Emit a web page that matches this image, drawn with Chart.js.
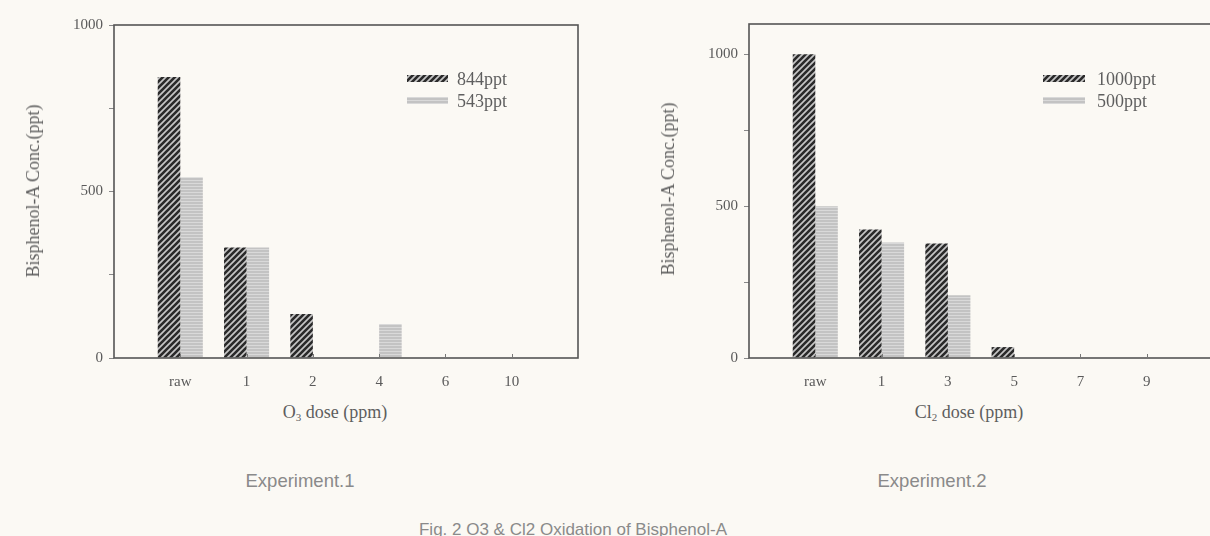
<!DOCTYPE html>
<html>
<head>
<meta charset="utf-8">
<script src="https://cdn.jsdelivr.net/npm/chart.js@4.4.1/dist/chart.umd.min.js"></script>
<style>
  html, body { margin:0; padding:0; }
  body { width:1210px; height:536px; overflow:hidden; position:relative; background:#fbf9f4; }
  canvas.chart { position:absolute; top:0; }
  .t { position:absolute; white-space:nowrap; color:#5e5e5e; font-family:"Liberation Serif","DejaVu Serif",serif; font-size:15px; line-height:1; }
  .ax { font-size:18px; }
  .lg { font-size:18px; }
  .c { transform:translate(-50%,-50%); }
  .rot { transform:translate(-50%,-50%) rotate(-90deg); }
  .sans { font-family:"Liberation Sans",Arial,sans-serif; color:#8a8a8a; font-size:17px; }
  .exp { font-size:18.5px; }
  sub { font-size:11px; vertical-align:-3px; line-height:0; }
  .sw { position:absolute; }
</style>
</head>
<body>
<canvas id="c1" class="chart" width="610" height="400" style="left:0px;width:610px;height:400px"></canvas>
<canvas id="c2" class="chart" width="620" height="400" style="left:620px;width:620px;height:400px"></canvas>

<div class="t ax rot" style="left:33px;top:191px">Bisphenol-A Conc.(ppt)</div>
<div class="t ax rot" style="left:668px;top:189px">Bisphenol-A Conc.(ppt)</div>
<div class="t ax c" style="left:335px;top:412px">O<sub>3</sub> dose (ppm)</div>
<div class="t ax c" style="left:969px;top:412px">Cl<sub>2</sub> dose (ppm)</div>

<canvas id="sw1a" class="sw" width="41" height="7" style="left:407px;top:75px"></canvas>
<canvas id="sw1b" class="sw" width="41" height="7" style="left:407px;top:97px"></canvas>
<div id="lg1a" class="t lg" style="left:457px;top:70px"></div>
<div id="lg1b" class="t lg" style="left:457px;top:92px"></div>
<canvas id="sw2a" class="sw" width="42" height="7" style="left:1043px;top:75px"></canvas>
<canvas id="sw2b" class="sw" width="42" height="7" style="left:1043px;top:97px"></canvas>
<div id="lg2a" class="t lg" style="left:1097px;top:70px"></div>
<div id="lg2b" class="t lg" style="left:1097px;top:92px"></div>

<div class="t c sans exp" style="left:300px;top:481px">Experiment.1</div>
<div class="t c sans exp" style="left:932px;top:481px">Experiment.2</div>
<div class="t c sans" style="left:573px;top:529px">Fig. 2 O3 &amp; Cl2 Oxidation of Bisphenol-A</div>

<script>
// ---- data ----
const o3Doses = ['raw', '1', '2', '4', '6', '10'];
const o3Series844 = [844, 332, 132, 0, 0, 0];
const o3Series543 = [543, 332, 0, 102, 0, 0];
const o3Legend = ['844ppt', '543ppt'];

const cl2Doses = ['raw', '1', '3', '5', '7', '9'];
const cl2Series1000 = [1000, 423, 377, 36, 0, 0];
const cl2Series500 = [500, 380, 207, 0, 0, 0];
const cl2Legend = ['1000ppt', '500ppt'];

const yLabelTicks = [0, 500, 1000];
const yMax1 = 1000;
const yMax2 = 1100;

// ---- patterns ----
function makeHatch() {
  const c = document.createElement('canvas'); c.width = 6; c.height = 6;
  const g = c.getContext('2d');
  g.fillStyle = '#c6c6c6'; g.fillRect(0, 0, 6, 6);
  g.strokeStyle = '#2a2a2a'; g.lineWidth = 2.6; g.lineCap = 'square';
  g.beginPath();
  g.moveTo(-1, 7); g.lineTo(7, -1);
  g.moveTo(-1, 1); g.lineTo(1, -1);
  g.moveTo(5, 7); g.lineTo(7, 5);
  g.stroke();
  return c;
}
function makeGray() {
  const c = document.createElement('canvas'); c.width = 4; c.height = 3;
  const g = c.getContext('2d');
  g.fillStyle = '#c3c3c3'; g.fillRect(0, 0, 4, 3);
  g.fillStyle = '#d9d9d9'; g.fillRect(0, 0, 4, 1);
  return c;
}
const hatchTile = makeHatch();
const grayTile = makeGray();
const pctx = document.createElement('canvas').getContext('2d');
const hatchPat = pctx.createPattern(hatchTile, 'repeat');
const grayPat = pctx.createPattern(grayTile, 'repeat');

function fillSwatch(id, tile) {
  const cv = document.getElementById(id);
  const g = cv.getContext('2d');
  g.fillStyle = g.createPattern(tile, 'repeat');
  g.fillRect(0, 0, cv.width, cv.height);
}
fillSwatch('sw1a', hatchTile); fillSwatch('sw1b', grayTile);
fillSwatch('sw2a', hatchTile); fillSwatch('sw2b', grayTile);
document.getElementById('lg1a').textContent = o3Legend[0];
document.getElementById('lg1b').textContent = o3Legend[1];
document.getElementById('lg2a').textContent = cl2Legend[0];
document.getElementById('lg2b').textContent = cl2Legend[1];

// ---- frame plugin ----
const framePlugin = {
  id: 'frame',
  afterDraw(chart) {
    const { ctx, chartArea: a } = chart;
    const xs = chart.scales.x;
    ctx.save();
    ctx.strokeStyle = '#555';
    ctx.lineWidth = 1.6;
    ctx.strokeRect(a.left, a.top, a.right - a.left, a.bottom - a.top);
    ctx.lineWidth = 1;
    ctx.strokeStyle = '#777';
    const n = chart.data.labels.length;
    for (let i = 1; i < n - 1; i++) {
      const x = Math.round(xs.getPixelForValue(i)) + 0.5;
      ctx.beginPath(); ctx.moveTo(x, a.bottom); ctx.lineTo(x, a.bottom - 4); ctx.stroke();
    }
    ctx.restore();
  }
};

function buildChart(id, cats, s1, s2, yMax, pad, yWidth, xHeight) {
  const labels = ['', ...cats, ''];
  const d1 = [null, ...s1, null];
  const d2 = [null, ...s2, null];
  return new Chart(document.getElementById(id), {
    type: 'bar',
    data: {
      labels,
      datasets: [
        { data: d1, backgroundColor: hatchPat, borderWidth: 0, categoryPercentage: 0.68, barPercentage: 1.0 },
        { data: d2, backgroundColor: grayPat, borderWidth: 0, categoryPercentage: 0.68, barPercentage: 1.0 }
      ]
    },
    options: {
      responsive: false,
      animation: false,
      devicePixelRatio: 1,
      layout: { padding: pad },
      plugins: { legend: { display: false }, tooltip: { enabled: false } },
      scales: {
        x: {
          offset: false,
          grid: { display: false, drawTicks: false },
          border: { display: false },
          ticks: { autoSkip: false, maxRotation: 0, padding: 15, color: '#5a5a5a',
                   font: { family: 'Liberation Serif', size: 15 } },
          afterFit(s) { s.height = xHeight; }
        },
        y: {
          min: 0, max: yMax,
          grid: { display: true, drawOnChartArea: false, drawTicks: true, tickLength: 5, color: '#888' },
          border: { display: false },
          ticks: {
            stepSize: 250, padding: 6, color: '#5a5a5a',
            font: { family: 'Liberation Serif', size: 15 },
            callback: (v) => yLabelTicks.includes(v) ? String(v) : ''
          },
          afterBuildTicks(s) { s.ticks = s.ticks.filter(t => t.value % 250 === 0); },
          afterFit(s) { s.width = yWidth; }
        }
      }
    },
    plugins: [framePlugin]
  });
}

buildChart('c1', o3Doses, o3Series844, o3Series543, yMax1,
  { top: 25, right: 32, left: 0, bottom: 0 }, 114, 42);
buildChart('c2', cl2Doses, cl2Series1000, cl2Series500, yMax2,
  { top: 24, right: 27, left: 0, bottom: 0 }, 129, 42);
</script>
</body>
</html>
